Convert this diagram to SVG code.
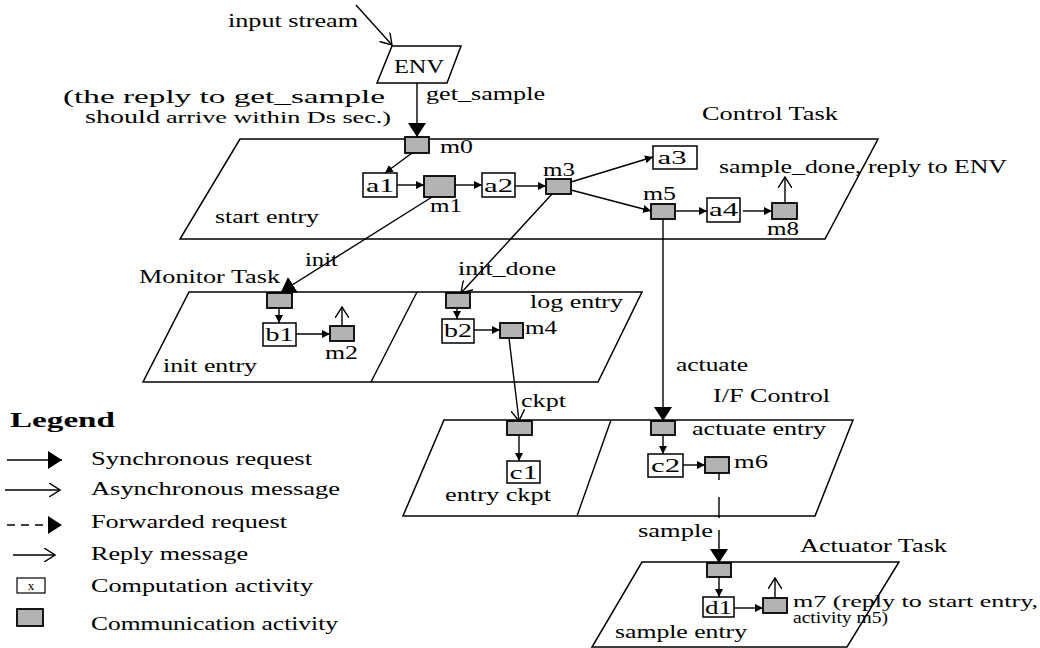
<svg xmlns="http://www.w3.org/2000/svg" width="1040" height="648" viewBox="0 0 1040 648">
  <style>
    text { font-family: "Liberation Serif", "Times New Roman", serif; font-size: 18px; fill: #000; }
    .task { fill: #fff; stroke: #000; stroke-width: 1.5; }
    .comp { fill: #fff; stroke: #000; stroke-width: 1.5; }
    .comm { fill: #b3b3b3; stroke: #000; stroke-width: 1.8; }
    .ln { fill: none; stroke: #000; stroke-width: 1.4; }
    .sync { marker-end: url(#bigHead); }
    .step { marker-end: url(#smallHead); }
    .async { marker-end: url(#openHead); }
    .dash { stroke-dasharray: 8 6; }
    .mid { text-anchor: middle; }
    .note { font-size: 16px; }
    .legend-title { font-weight: bold; font-size: 22px; }
  </style>
  <defs>
    <marker id="bigHead" markerUnits="userSpaceOnUse" viewBox="0 0 14 18" refX="14" refY="9" markerWidth="14" markerHeight="18" orient="auto">
      <path d="M0,0 L14,9 L0,18 Z" fill="#000"/>
    </marker>
    <marker id="smallHead" markerUnits="userSpaceOnUse" viewBox="0 0 8 8" refX="8" refY="4" markerWidth="8" markerHeight="8" orient="auto">
      <path d="M0,0 L8,4 L0,8 Z" fill="#000"/>
    </marker>
    <marker id="openHead" markerUnits="userSpaceOnUse" viewBox="0 0 12 14" refX="11" refY="7" markerWidth="12" markerHeight="14" orient="auto">
      <path d="M0,0 L11,7 L0,14" fill="none" stroke="#000" stroke-width="1.4"/>
    </marker>
  </defs>

  <rect width="1040" height="648" fill="#fff"/>

  <!-- environment -->
  <g id="env">
    <polygon class="task" points="392,46 461,46 447,83 377,83"/>
    <text x="394" y="73" textLength="50" lengthAdjust="spacingAndGlyphs" style="font-size:19px">ENV</text>
  </g>

  <!-- control task -->
  <g id="control-task">
    <polygon class="task" points="240,139 878,139 825,239 180,239"/>
    <text x="702" y="120" textLength="136" lengthAdjust="spacingAndGlyphs">Control Task</text>
    <text x="215" y="223" textLength="104" lengthAdjust="spacingAndGlyphs">start entry</text>
  </g>
  <g id="m0">
    <rect class="comm" x="405" y="137" width="24" height="16"/>
    <text x="440" y="153" textLength="33" lengthAdjust="spacingAndGlyphs">m0</text>
  </g>
  <g id="a1">
    <rect class="comp" x="363" y="173" width="34" height="24"/>
    <text class="mid" x="380" y="192" textLength="28" lengthAdjust="spacingAndGlyphs">a1</text>
  </g>
  <g id="m1">
    <rect class="comm" x="424" y="176" width="31" height="21"/>
    <text x="430" y="212" textLength="32" lengthAdjust="spacingAndGlyphs">m1</text>
  </g>
  <g id="a2">
    <rect class="comp" x="482" y="173" width="33" height="24"/>
    <text class="mid" x="498.5" y="192" textLength="29" lengthAdjust="spacingAndGlyphs">a2</text>
  </g>
  <g id="m3">
    <rect class="comm" x="546" y="179" width="25" height="15"/>
    <text x="543" y="176" textLength="32" lengthAdjust="spacingAndGlyphs">m3</text>
  </g>
  <g id="a3">
    <rect class="comp" x="653" y="146" width="44" height="23"/>
    <text class="mid" x="672" y="164" textLength="29" lengthAdjust="spacingAndGlyphs">a3</text>
  </g>
  <g id="m5">
    <rect class="comm" x="651" y="204" width="24" height="15"/>
    <text x="643" y="200" textLength="33" lengthAdjust="spacingAndGlyphs">m5</text>
  </g>
  <g id="a4">
    <rect class="comp" x="707" y="198" width="33" height="24"/>
    <text class="mid" x="723.5" y="216" textLength="29" lengthAdjust="spacingAndGlyphs">a4</text>
  </g>
  <g id="m8">
    <rect class="comm" x="772" y="203" width="25" height="16"/>
    <text x="767" y="235" textLength="32" lengthAdjust="spacingAndGlyphs">m8</text>
  </g>

  <!-- monitor task -->
  <g id="monitor-task">
    <polygon class="task" points="189,292 642,292 598,382 143,382"/>
    <line class="ln" x1="417" y1="292" x2="371" y2="382"/>
    <text x="139" y="283" textLength="141" lengthAdjust="spacingAndGlyphs">Monitor Task</text>
    <text x="163" y="372" textLength="94" lengthAdjust="spacingAndGlyphs">init entry</text>
    <text x="530" y="308" textLength="93" lengthAdjust="spacingAndGlyphs">log entry</text>
  </g>
  <g id="init-in">
    <rect class="comm" x="267" y="293" width="25" height="15"/>
  </g>
  <g id="b1">
    <rect class="comp" x="263" y="323" width="33" height="23"/>
    <text class="mid" x="279.5" y="341" textLength="28" lengthAdjust="spacingAndGlyphs">b1</text>
  </g>
  <g id="m2">
    <rect class="comm" x="330" y="326" width="24" height="15"/>
    <text x="325" y="359" textLength="33" lengthAdjust="spacingAndGlyphs">m2</text>
  </g>
  <g id="log-in">
    <rect class="comm" x="446" y="293" width="24" height="15"/>
  </g>
  <g id="b2">
    <rect class="comp" x="442" y="319" width="32" height="24"/>
    <text class="mid" x="458" y="337" textLength="28" lengthAdjust="spacingAndGlyphs">b2</text>
  </g>
  <g id="m4">
    <rect class="comm" x="500" y="323" width="23" height="15"/>
    <text x="525" y="334" textLength="32" lengthAdjust="spacingAndGlyphs">m4</text>
  </g>

  <!-- I/F control -->
  <g id="if-control">
    <polygon class="task" points="444,420 853,420 815,516 403,516"/>
    <line class="ln" x1="611" y1="420" x2="577" y2="516"/>
    <text x="713" y="402" textLength="117" lengthAdjust="spacingAndGlyphs">I/F Control</text>
    <text x="692" y="435" textLength="134" lengthAdjust="spacingAndGlyphs">actuate entry</text>
    <text x="445" y="501" textLength="106" lengthAdjust="spacingAndGlyphs">entry ckpt</text>
  </g>
  <g id="ckpt-in">
    <rect class="comm" x="507" y="421" width="25" height="14"/>
  </g>
  <g id="c1">
    <rect class="comp" x="507" y="461" width="33" height="22"/>
    <text class="mid" x="523.5" y="479" textLength="28" lengthAdjust="spacingAndGlyphs">c1</text>
  </g>
  <g id="actuate-in">
    <rect class="comm" x="651" y="421" width="24" height="14"/>
  </g>
  <g id="c2">
    <rect class="comp" x="648" y="454" width="35" height="23"/>
    <text class="mid" x="665.5" y="472" textLength="29" lengthAdjust="spacingAndGlyphs">c2</text>
  </g>
  <g id="m6">
    <rect class="comm" x="705" y="457" width="24" height="16"/>
    <text x="734" y="468" textLength="34" lengthAdjust="spacingAndGlyphs">m6</text>
  </g>

  <!-- actuator task -->
  <g id="actuator-task">
    <polygon class="task" points="642,562 899,562 847,647 592,647"/>
    <text x="800" y="552" textLength="147" lengthAdjust="spacingAndGlyphs">Actuator Task</text>
    <text x="615" y="638" textLength="132" lengthAdjust="spacingAndGlyphs">sample entry</text>
  </g>
  <g id="sample-in">
    <rect class="comm" x="707" y="563" width="24" height="14"/>
  </g>
  <g id="d1">
    <rect class="comp" x="703" y="597" width="31" height="20"/>
    <text class="mid" x="718.5" y="614" textLength="27" lengthAdjust="spacingAndGlyphs">d1</text>
  </g>
  <g id="m7">
    <rect class="comm" x="763" y="598" width="24" height="15"/>
    <text class="note" x="793" y="607" textLength="245" lengthAdjust="spacingAndGlyphs">m7 (reply to start entry,</text>
    <text class="note" x="793" y="623" textLength="95" lengthAdjust="spacingAndGlyphs">activity m5)</text>
  </g>

  <!-- connectors -->
  <g id="connectors">
    <line class="ln async" x1="356" y1="5" x2="392" y2="45"/>
    <line class="ln sync" x1="417" y1="83" x2="417" y2="137"/>
    <line class="ln step" x1="412" y1="153" x2="385" y2="173"/>
    <line class="ln step" x1="397" y1="185" x2="424" y2="185"/>
    <line class="ln step" x1="455" y1="185" x2="482" y2="185"/>
    <line class="ln step" x1="515" y1="186" x2="546" y2="186"/>
    <line class="ln step" x1="571" y1="182" x2="653" y2="157"/>
    <line class="ln step" x1="571" y1="190" x2="651" y2="211"/>
    <line class="ln step" x1="675" y1="211" x2="707" y2="211"/>
    <line class="ln step" x1="743" y1="211" x2="772" y2="211"/>
    <line class="ln async" x1="785" y1="203" x2="785" y2="177"/>
    <line class="ln sync" x1="432" y1="197" x2="281" y2="292"/>
    <line class="ln async" x1="552" y1="194" x2="461" y2="293"/>
    <line class="ln sync" x1="663" y1="219" x2="663" y2="421"/>
    <line class="ln step" x1="279" y1="308" x2="279" y2="323"/>
    <line class="ln step" x1="296" y1="334" x2="330" y2="334"/>
    <line class="ln async" x1="342" y1="326" x2="342" y2="307"/>
    <line class="ln step" x1="457" y1="308" x2="457" y2="319"/>
    <line class="ln step" x1="474" y1="330" x2="500" y2="330"/>
    <line class="ln async" x1="509" y1="338" x2="519" y2="421"/>
    <line class="ln step" x1="519" y1="435" x2="519" y2="461"/>
    <line class="ln step" x1="663" y1="435" x2="663" y2="454"/>
    <line class="ln step" x1="683" y1="465" x2="705" y2="465"/>
    <line class="ln sync" x1="719" y1="473" x2="719" y2="563" style="stroke-dasharray:7 17 21 12 40"/>
    <line class="ln step" x1="719" y1="577" x2="719" y2="597"/>
    <line class="ln step" x1="734" y1="608" x2="763" y2="608"/>
    <line class="ln async" x1="775" y1="598" x2="775" y2="578"/>

    <!-- connector labels -->
    <text x="228" y="27" textLength="130" lengthAdjust="spacingAndGlyphs">input stream</text>
    <text x="426" y="100" textLength="119" lengthAdjust="spacingAndGlyphs">get_sample</text>
    <text x="63" y="103" textLength="322" lengthAdjust="spacingAndGlyphs">(the reply to get_sample</text>
    <text x="85" y="123" textLength="75" lengthAdjust="spacingAndGlyphs">should</text>
    <text x="166" y="123" textLength="225" lengthAdjust="spacingAndGlyphs" style="font-size:16px">arrive within Ds sec.)</text>
    <text x="719" y="173" textLength="288" lengthAdjust="spacingAndGlyphs">sample_done, reply to ENV</text>
    <text x="305" y="266" textLength="33" lengthAdjust="spacingAndGlyphs">init</text>
    <text x="458" y="275" textLength="98" lengthAdjust="spacingAndGlyphs">init_done</text>
    <text x="676" y="371" textLength="72" lengthAdjust="spacingAndGlyphs">actuate</text>
    <text x="521" y="407" textLength="45" lengthAdjust="spacingAndGlyphs">ckpt</text>
    <text x="638" y="537" textLength="75" lengthAdjust="spacingAndGlyphs">sample</text>
  </g>

  <!-- legend -->
  <g id="legend">
    <text class="legend-title" x="10" y="427" textLength="105" lengthAdjust="spacingAndGlyphs">Legend</text>
    <line class="ln sync" x1="7" y1="460" x2="62" y2="460"/>
    <text x="91" y="465" textLength="221" lengthAdjust="spacingAndGlyphs">Synchronous request</text>
    <line class="ln async" x1="5" y1="490" x2="60" y2="490"/>
    <text x="91" y="495" textLength="249" lengthAdjust="spacingAndGlyphs">Asynchronous message</text>
    <line class="ln sync dash" x1="7" y1="525" x2="62" y2="525"/>
    <text x="91" y="528" textLength="196" lengthAdjust="spacingAndGlyphs">Forwarded request</text>
    <line class="ln async" x1="13" y1="555" x2="55" y2="555"/>
    <text x="91" y="560" textLength="157" lengthAdjust="spacingAndGlyphs">Reply message</text>
    <rect class="comp" x="17" y="578" width="28" height="15" style="stroke-width:1.2"/>
    <text class="mid" x="31" y="590" style="font-size:13px">x</text>
    <text x="91" y="592" textLength="222" lengthAdjust="spacingAndGlyphs">Computation activity</text>
    <rect class="comm" x="17" y="609" width="26" height="17"/>
    <text x="91" y="630" textLength="247" lengthAdjust="spacingAndGlyphs">Communication activity</text>
  </g>
</svg>
